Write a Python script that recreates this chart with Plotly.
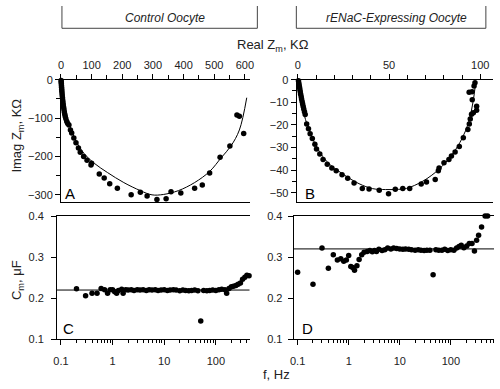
import plotly.graph_objects as go

W, H = 500, 389

# ---------------- data ----------------
# Panel A: control oocyte Nyquist plot (Real Zm, Imag Zm in kOhm)
a_real = [0.5, 0.8, 1.2, 1.6, 2.0, 2.5, 3.0, 3.6, 4.2, 5.0, 5.8, 6.7, 7.6, 8.6, 9.8, 11, 12.5, 14, 16, 19, 22,
          26, 31, 35, 42, 49, 57, 63, 74, 85, 98, 100, 125, 141, 159, 184, 229, 259, 281, 313,
          343, 359, 391, 436, 461, 485, 519, 551, 574, 582, 596]
a_imag = [-2, -6, -10, -15, -20, -25, -30, -36, -42, -48, -54, -60, -66, -72, -78, -84, -90, -96, -102, -109, -114,
          -118, -131, -139, -152, -164, -178, -189, -200, -210, -222, -218, -246, -256, -271, -283, -300, -293, -303, -312,
          -310, -292, -295, -283, -274, -243, -202, -173, -92, -95, -140]
a_fit_real = [0, 1, 5, 12, 28, 49, 76, 109, 152, 205, 259, 297, 334, 383, 436, 485, 523, 555, 582, 606]
a_fit_imag = [0, -18, -50, -77, -118, -160, -193, -218, -242, -268, -289, -300, -299, -289, -268, -239, -203, -172, -131, -47]

# Panel B: rENaC-expressing oocyte Nyquist plot
b_real = [0.3, 0.5, 0.7, 0.9, 1.1, 1.3, 1.5, 1.8, 2.0, 2.3, 2.6, 2.9, 3.2, 3.6, 4.0,
          4.8, 5.8, 6.7, 7.9, 9.3, 10.2, 12, 13.8, 16.1, 18.6, 21, 24.2, 27.3, 30.8, 35.3, 39, 44.6,
          49.7, 53.4, 57.5, 61.3, 67.6, 70.5, 75.3, 77, 77.4, 80.1, 82.8, 84.2, 86.2, 88.5, 90.7,
          93.2, 94, 94.5, 95.2, 96.2, 98, 98, 95.6, 93.9, 95.5, 96.6, 97.1]
b_imag = [-0.5, -1.5, -2.5, -3.5, -4.5, -5.5, -6.5, -7.6, -8.6, -9.7, -10.8, -11.9, -13, -14.2, -15.4,
          -19.6, -21.7, -23.9, -26, -28.6, -30.7, -32.9, -35.3, -37.4, -39.1, -40.3, -42.1, -43.6, -45.7, -48.1, -48.3, -48.9,
          -50.4, -48.5, -48.1, -48.1, -46.1, -45.3, -44.1, -40.3, -39.1, -36.7, -35.3, -33.8, -32, -29.6, -25.7,
          -22, -19.6, -17.4, -15.3, -14.6, -13.5, -11.8, -8.9, -5.6, -5.3, -2.8, -1.4]
b_fit_real = [0.3, 0.9, 3.1, 8.4, 15.6, 24.6, 33.5, 41, 48, 55, 59.5, 68.5, 77.4, 84.6, 90, 93.6, 96, 97.5]
b_fit_imag = [0, -4.6, -14.6, -26.7, -36, -41.7, -46, -48.2, -48.6, -48.5, -48.1, -44.9, -39.6, -33.1, -26, -18.9, -10, -1]

# Panel C: control oocyte membrane capacitance vs frequency
c_freq = [0.2, 0.3, 0.4, 0.5, 0.6, 0.7, 0.8, 0.9, 1.0, 1.1,
          1.2, 1.3, 1.5, 1.6, 1.8, 2.0, 2.3, 2.6, 3.0, 3.4,
          3.9, 4.5, 5.1, 5.8, 6.7, 7.6, 8.7, 10, 11.5, 13,
          15, 17, 20, 23, 26, 30, 34, 39, 45, 51,
          58, 67, 76, 87, 100, 115, 130, 150, 162, 180,
          200, 220, 245, 270, 300, 330, 365, 400, 440]
c_cap = [0.223, 0.206, 0.212, 0.212, 0.224, 0.221, 0.212, 0.221, 0.221, 0.216,
         0.212, 0.219, 0.222, 0.212, 0.221, 0.220, 0.221, 0.219, 0.221, 0.220,
         0.221, 0.219, 0.221, 0.220, 0.221, 0.219, 0.220, 0.221, 0.219, 0.220,
         0.221, 0.220, 0.218, 0.220, 0.219, 0.218, 0.219, 0.220, 0.218, 0.145,
         0.219, 0.218, 0.219, 0.220, 0.219, 0.221, 0.222, 0.221, 0.212, 0.224,
         0.228, 0.229, 0.231, 0.234, 0.237, 0.246, 0.251, 0.256, 0.255]
c_fit_level = 0.22

# Panel D: rENaC-expressing oocyte membrane capacitance vs frequency
d_freq = [0.1, 0.2, 0.3, 0.4, 0.5, 0.6, 0.7, 0.8, 0.9, 1.0,
          1.1, 1.2, 1.3, 1.45, 1.6, 1.8, 2.0, 2.3, 2.6, 2.9,
          3.2, 3.5, 3.9, 4.5, 5.1, 5.8, 6.7, 7.6, 8.7, 10,
          11.5, 13, 15, 17, 20, 23, 26, 30, 34, 39,
          45, 51, 58, 67, 76, 87, 100, 115, 130, 145,
          160, 180, 205, 230, 260, 290, 320, 350, 400, 470, 525]
d_cap = [0.263, 0.234, 0.322, 0.273, 0.306, 0.293, 0.296, 0.290, 0.293, 0.304,
         0.277, 0.275, 0.268, 0.279, 0.294, 0.306, 0.312, 0.314, 0.316, 0.313,
         0.316, 0.314, 0.319, 0.316, 0.318, 0.322, 0.320, 0.322, 0.321, 0.320,
         0.319, 0.320, 0.319, 0.318, 0.317, 0.318, 0.317, 0.316, 0.317, 0.317,
         0.257, 0.318, 0.317, 0.317, 0.319, 0.316, 0.318, 0.317, 0.322, 0.326,
         0.329, 0.323, 0.327, 0.333, 0.333, 0.315, 0.341, 0.353, 0.373, 0.400, 0.400]
d_fit_level = 0.32
fit_span = [0.05, 1000]

a_xticks = [0, 100, 200, 300, 400, 500, 600]
a_yticks = [0, -100, -200, -300]
b_xticks = [0, 50, 100]
b_yticks = [0, -10, -20, -30, -40, -50]
cap_yticks = [0.1, 0.2, 0.3, 0.4]
cap_yticklabels = ["0.1", "0.2", "0.3", "0.4"]
freq_ticks = [0.1, 1, 10, 100]
freq_ticklabels = ["0.1", "1", "10", "100"]

# ---------------- helpers ----------------
def px(x):
    return x / W

def py(y):
    return 1 - y / H

FONT = "Arial, Liberation Sans, Helvetica, sans-serif"
TXT = "#222222"
mk = dict(color="black", size=5.5)
ln = dict(color="black", width=1)

fig = go.Figure()
fig.add_trace(go.Scatter(x=a_fit_real, y=a_fit_imag, mode="lines", line=dict(color="black", width=1, shape="spline"),
                         xaxis="x", yaxis="y", cliponaxis=False))
fig.add_trace(go.Scatter(x=a_real, y=a_imag, mode="markers", marker=mk, xaxis="x", yaxis="y", cliponaxis=False))
fig.add_trace(go.Scatter(x=b_fit_real, y=b_fit_imag, mode="lines", line=dict(color="black", width=1, shape="spline"),
                         xaxis="x2", yaxis="y2", cliponaxis=False))
fig.add_trace(go.Scatter(x=b_real, y=b_imag, mode="markers", marker=mk, xaxis="x2", yaxis="y2", cliponaxis=False))
fig.add_trace(go.Scatter(x=fit_span, y=[c_fit_level] * 2, mode="lines", line=ln, xaxis="x3", yaxis="y3"))
fig.add_trace(go.Scatter(x=c_freq, y=c_cap, mode="markers", marker=mk, xaxis="x3", yaxis="y3", cliponaxis=False))
fig.add_trace(go.Scatter(x=fit_span, y=[d_fit_level] * 2, mode="lines", line=ln, xaxis="x4", yaxis="y4"))
fig.add_trace(go.Scatter(x=d_freq, y=d_cap, mode="markers", marker=mk, xaxis="x4", yaxis="y4", cliponaxis=False))

tickfont = dict(family=FONT, size=11, color=TXT)
common = dict(showline=True, linecolor="black", linewidth=1, showgrid=False, zeroline=False,
              ticks="outside", ticklen=5, tickwidth=1, tickcolor="black", tickfont=tickfont,
              ticklabeloverflow="allow")

top_y = py(76)
mid_y = py(202)
cap_top = py(216.7)
cap_bot = py(344)

minor_log = [m * 10 ** k for k in range(-1, 3) for m in range(2, 10)]

fig.update_layout(
    width=W, height=H, margin=dict(l=0, r=0, t=0, b=0),
    paper_bgcolor="white", plot_bgcolor="white", showlegend=False,
    xaxis=dict(domain=[px(58), px(250)], range=[0, 615], side="top", anchor="y", mirror=True,
               tickmode="array", tickvals=a_xticks,
               minor=dict(dtick=50, ticks="outside", ticklen=4, tickcolor="black", showgrid=False), **common),
    yaxis=dict(domain=[mid_y, top_y], range=[-318, 0], anchor="x",
               tickmode="array", tickvals=a_yticks,
               minor=dict(dtick=50, ticks="outside", ticklen=4, tickcolor="black", showgrid=False), **common),
    xaxis2=dict(domain=[px(298), px(498)], range=[-0.7, 107], side="top", anchor="y2", mirror=True,
                tickmode="array", tickvals=b_xticks,
                minor=dict(dtick=10, ticks="outside", ticklen=4, tickcolor="black", showgrid=False), **common),
    yaxis2=dict(domain=[mid_y, top_y], range=[-54, 0], anchor="x2",
                tickmode="array", tickvals=b_yticks,
                minor=dict(dtick=5, ticks="outside", ticklen=4, tickcolor="black", showgrid=False), **common),
    xaxis3=dict(domain=[px(54), px(250)], type="log", range=[-1.076, 2.652], anchor="y3", mirror=True,
                tickmode="array", tickvals=freq_ticks, ticktext=freq_ticklabels, ticklabelstandoff=6,
                minor=dict(tickmode="array", tickvals=minor_log, ticks="outside", ticklen=3,
                           tickcolor="black", showgrid=False), **common),
    yaxis3=dict(domain=[cap_bot, cap_top], range=[0.1, 0.4], anchor="x3", ticklabelstandoff=5,
                tickmode="array", tickvals=cap_yticks, ticktext=cap_yticklabels, **common),
    xaxis4=dict(domain=[px(295), px(499)], type="log", range=[-1.077, 2.846], anchor="y4", mirror=True,
                tickmode="array", tickvals=freq_ticks, ticktext=freq_ticklabels, ticklabelstandoff=6,
                minor=dict(tickmode="array", tickvals=minor_log, ticks="outside", ticklen=3,
                           tickcolor="black", showgrid=False), **common),
    yaxis4=dict(domain=[cap_bot, cap_top], range=[0.1, 0.4], anchor="x4", ticklabelstandoff=3,
                tickmode="array", tickvals=cap_yticks, ticktext=cap_yticklabels, **common),
)

def ann(text, x, y, size=13, angle=0, italic=False, color=TXT):
    fig.add_annotation(text=text, x=px(x), y=py(y), xref="paper", yref="paper",
                       xanchor="center", yanchor="middle", showarrow=False, textangle=angle,
                       font=dict(family=FONT, size=size, color=color,
                                 style="italic" if italic else "normal"))

ann("Control Oocyte", 164, 12, size=12, italic=True)
ann("rENaC-Expressing Oocyte", 400, 12, size=12, italic=True)
ann("Real Z<sub>m</sub>, KΩ", 274, 41, size=13)
ann("Imag Z<sub>m</sub>, KΩ", 14, 134, size=13, angle=-90)
ann("C<sub>m</sub>, μF", 14, 283, size=13, angle=-90)
ann("f, Hz", 278, 380, size=13)
ann("A", 67, 193, size=15, color="black")
ann("B", 312, 193, size=15, color="black")
ann("C", 66, 333, size=15, color="black")
ann("D", 309, 333, size=15, color="black")

# title boxes (left, right and bottom edges)
for x0, x1 in [(59, 258), (297.7, 490.7)]:
    fig.add_shape(type="line", xref="paper", yref="paper", x0=px(x0), x1=px(x0), y0=py(0), y1=py(23),
                  line=dict(color="#444", width=1))
    fig.add_shape(type="line", xref="paper", yref="paper", x0=px(x1), x1=px(x1), y0=py(0), y1=py(23),
                  line=dict(color="#444", width=1))
    fig.add_shape(type="line", xref="paper", yref="paper", x0=px(x0), x1=px(x1), y0=py(23), y1=py(23),
                  line=dict(color="#444", width=1))

fig.write_html("out.html", config={"displayModeBar": False},
               post_script="document.body.style.margin='0';document.body.style.overflow='hidden';")
